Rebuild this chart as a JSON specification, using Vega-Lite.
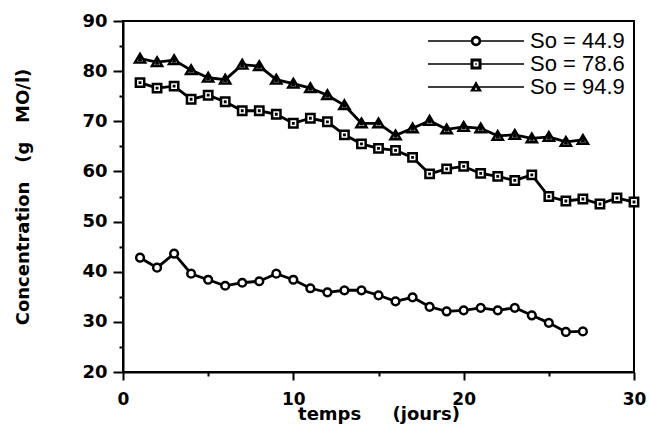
{
  "$schema": "https://vega.github.io/schema/vega-lite/v6.json",
  "width": 511,
  "height": 351,
  "autosize": {"type": "none"},
  "padding": {"left": 123, "top": 21, "right": 16, "bottom": 54},
  "background": "white",
  "config": {
    "view": {"stroke": "black", "strokeWidth": 2},
    "axis": {
      "domainColor": "black", "domainWidth": 2, "tickColor": "black", "tickWidth": 2,
      "labelColor": "black", "titleColor": "black", "grid": false,
      "labelFont": "DejaVu Sans", "labelFontWeight": "bold", "labelFontSize": 17,
      "titleFont": "DejaVu Sans", "titleFontWeight": "bold", "titleFontSize": 18,
      "labelOverlap": false, "labelBound": false, "labelFlush": false
    }
  },
  "data": {
    "values": [
      {"day": 1, "conc": 42.8, "series": "So = 44.9"},
      {"day": 2, "conc": 40.8, "series": "So = 44.9"},
      {"day": 3, "conc": 43.6, "series": "So = 44.9"},
      {"day": 4, "conc": 39.6, "series": "So = 44.9"},
      {"day": 5, "conc": 38.4, "series": "So = 44.9"},
      {"day": 6, "conc": 37.2, "series": "So = 44.9"},
      {"day": 7, "conc": 37.8, "series": "So = 44.9"},
      {"day": 8, "conc": 38.1, "series": "So = 44.9"},
      {"day": 9, "conc": 39.6, "series": "So = 44.9"},
      {"day": 10, "conc": 38.4, "series": "So = 44.9"},
      {"day": 11, "conc": 36.7, "series": "So = 44.9"},
      {"day": 12, "conc": 35.9, "series": "So = 44.9"},
      {"day": 13, "conc": 36.3, "series": "So = 44.9"},
      {"day": 14, "conc": 36.3, "series": "So = 44.9"},
      {"day": 15, "conc": 35.3, "series": "So = 44.9"},
      {"day": 16, "conc": 34.1, "series": "So = 44.9"},
      {"day": 17, "conc": 34.9, "series": "So = 44.9"},
      {"day": 18, "conc": 33.0, "series": "So = 44.9"},
      {"day": 19, "conc": 32.1, "series": "So = 44.9"},
      {"day": 20, "conc": 32.3, "series": "So = 44.9"},
      {"day": 21, "conc": 32.8, "series": "So = 44.9"},
      {"day": 22, "conc": 32.3, "series": "So = 44.9"},
      {"day": 23, "conc": 32.8, "series": "So = 44.9"},
      {"day": 24, "conc": 31.3, "series": "So = 44.9"},
      {"day": 25, "conc": 29.8, "series": "So = 44.9"},
      {"day": 26, "conc": 28.0, "series": "So = 44.9"},
      {"day": 27, "conc": 28.1, "series": "So = 44.9"},
      {"day": 1, "conc": 77.7, "series": "So = 78.6"},
      {"day": 2, "conc": 76.6, "series": "So = 78.6"},
      {"day": 3, "conc": 77.0, "series": "So = 78.6"},
      {"day": 4, "conc": 74.4, "series": "So = 78.6"},
      {"day": 5, "conc": 75.2, "series": "So = 78.6"},
      {"day": 6, "conc": 73.9, "series": "So = 78.6"},
      {"day": 7, "conc": 72.1, "series": "So = 78.6"},
      {"day": 8, "conc": 72.1, "series": "So = 78.6"},
      {"day": 9, "conc": 71.4, "series": "So = 78.6"},
      {"day": 10, "conc": 69.6, "series": "So = 78.6"},
      {"day": 11, "conc": 70.6, "series": "So = 78.6"},
      {"day": 12, "conc": 69.9, "series": "So = 78.6"},
      {"day": 13, "conc": 67.3, "series": "So = 78.6"},
      {"day": 14, "conc": 65.5, "series": "So = 78.6"},
      {"day": 15, "conc": 64.6, "series": "So = 78.6"},
      {"day": 16, "conc": 64.2, "series": "So = 78.6"},
      {"day": 17, "conc": 62.8, "series": "So = 78.6"},
      {"day": 18, "conc": 59.5, "series": "So = 78.6"},
      {"day": 19, "conc": 60.5, "series": "So = 78.6"},
      {"day": 20, "conc": 61.0, "series": "So = 78.6"},
      {"day": 21, "conc": 59.6, "series": "So = 78.6"},
      {"day": 22, "conc": 59.0, "series": "So = 78.6"},
      {"day": 23, "conc": 58.2, "series": "So = 78.6"},
      {"day": 24, "conc": 59.3, "series": "So = 78.6"},
      {"day": 25, "conc": 55.0, "series": "So = 78.6"},
      {"day": 26, "conc": 54.1, "series": "So = 78.6"},
      {"day": 27, "conc": 54.5, "series": "So = 78.6"},
      {"day": 28, "conc": 53.5, "series": "So = 78.6"},
      {"day": 29, "conc": 54.7, "series": "So = 78.6"},
      {"day": 30, "conc": 53.9, "series": "So = 78.6"},
      {"day": 1, "conc": 82.5, "series": "So = 94.9"},
      {"day": 2, "conc": 81.8, "series": "So = 94.9"},
      {"day": 3, "conc": 82.2, "series": "So = 94.9"},
      {"day": 4, "conc": 80.2, "series": "So = 94.9"},
      {"day": 5, "conc": 78.7, "series": "So = 94.9"},
      {"day": 6, "conc": 78.3, "series": "So = 94.9"},
      {"day": 7, "conc": 81.3, "series": "So = 94.9"},
      {"day": 8, "conc": 81.0, "series": "So = 94.9"},
      {"day": 9, "conc": 78.3, "series": "So = 94.9"},
      {"day": 10, "conc": 77.5, "series": "So = 94.9"},
      {"day": 11, "conc": 76.6, "series": "So = 94.9"},
      {"day": 12, "conc": 75.2, "series": "So = 94.9"},
      {"day": 13, "conc": 73.2, "series": "So = 94.9"},
      {"day": 14, "conc": 69.6, "series": "So = 94.9"},
      {"day": 15, "conc": 69.6, "series": "So = 94.9"},
      {"day": 16, "conc": 67.2, "series": "So = 94.9"},
      {"day": 17, "conc": 68.6, "series": "So = 94.9"},
      {"day": 18, "conc": 70.1, "series": "So = 94.9"},
      {"day": 19, "conc": 68.4, "series": "So = 94.9"},
      {"day": 20, "conc": 68.9, "series": "So = 94.9"},
      {"day": 21, "conc": 68.6, "series": "So = 94.9"},
      {"day": 22, "conc": 67.1, "series": "So = 94.9"},
      {"day": 23, "conc": 67.3, "series": "So = 94.9"},
      {"day": 24, "conc": 66.6, "series": "So = 94.9"},
      {"day": 25, "conc": 66.9, "series": "So = 94.9"},
      {"day": 26, "conc": 65.9, "series": "So = 94.9"},
      {"day": 27, "conc": 66.3, "series": "So = 94.9"}
    ]
  },
  "encoding": {
    "x": {
      "field": "day", "type": "quantitative",
      "scale": {"domain": [0, 30], "nice": false},
      "axis": {
        "values": [0, 5, 10, 15, 20, 25, 30],
        "labelExpr": "datum.value % 10 === 0 ? datum.label : ''",
        "tickSize": {"condition": {"test": "datum.value % 10 === 0", "value": 8}, "value": 4},
        "labelPadding": 11,
        "title": "temps\u00a0\u00a0\u00a0\u00a0\u00a0(jours)",
        "titlePadding": -2
      }
    },
    "y": {
      "field": "conc", "type": "quantitative",
      "scale": {"domain": [20, 90], "nice": false, "zero": false},
      "axis": {
        "values": [20, 25, 30, 35, 40, 45, 50, 55, 60, 65, 70, 75, 80, 85, 90],
        "labelExpr": "datum.value % 10 === 0 ? datum.label : ''",
        "tickSize": {"condition": {"test": "datum.value % 10 === 0", "value": 10}, "value": 4},
        "labelPadding": 6,
        "labelFontSize": 18,
        "title": "Concentration\u00a0\u00a0\u00a0(g\u00a0\u00a0\u00a0MO/l)",
        "titlePadding": 49
      }
    }
  },
  "resolve": {"scale": {"shape": "independent"}, "legend": {"shape": "independent"}},
  "layer": [
    {
      "mark": {"type": "line", "color": "black", "strokeWidth": 2.8},
      "encoding": {"detail": {"field": "series", "type": "nominal"}}
    },
    {
      "mark": {"type": "point", "filled": true, "fill": "white", "stroke": "black", "strokeWidth": 2.5, "opacity": 1, "size": 115},
      "encoding": {
        "shape": {
          "field": "series", "type": "nominal",
          "scale": {
            "domain": ["So = 44.9", "So = 78.6", "So = 94.9"],
            "range": [
              "M0.72,0A0.72,0.72 0 1,1 -0.72,0A0.72,0.72 0 1,1 0.72,0Z",
              "M-0.78,-0.78H0.78V0.78H-0.78Z M-0.03,-0.03H0.03V0.03H-0.03Z",
              "M0,-0.88L0.95,0.72H-0.95Z M0,0.0L0.08,0.2H-0.08Z"
            ]
          },
          "legend": null
        }
      }
    },
    {
      "transform": [{"filter": "false"}],
      "mark": {"type": "point", "filled": true, "fill": "black", "strokeWidth": 0, "opacity": 1, "size": 400},
      "encoding": {
        "shape": {
          "field": "series", "type": "nominal",
          "scale": {
            "domain": ["So = 44.9", "So = 78.6", "So = 94.9"],
            "range": [
              "M-8.6,-0.08H-4.3V0.08H-8.6Z M-3.3,-0.08H1V0.08H-3.3Z M-3.28,0A0.52,0.52 0 1,1 -4.32,0A0.52,0.52 0 1,1 -3.28,0Z M-3.54,0A0.26,0.26 0 1,0 -4.06,0A0.26,0.26 0 1,0 -3.54,0Z",
              "M-8.6,-0.08H-4.35V0.08H-8.6Z M-3.25,-0.08H1V0.08H-3.25Z M-4.35,-0.55H-3.25V0.55H-4.35Z M-4.05,-0.25V0.25H-3.55V-0.25Z M-3.88,-0.08H-3.72V0.08H-3.88Z",
              "M-8.6,-0.08H-4.1V0.08H-8.6Z M-3.5,-0.08H1V0.08H-3.5Z M-3.8,-0.6L-3.2,0.45H-4.4Z M-3.8,0.02L-3.93,0.28H-3.67Z"
            ]
          },
          "legend": {
            "title": null,
            "orient": "top-right",
            "offset": 9,
            "padding": 0,
            "rowPadding": 1,
            "symbolSize": 400,
            "symbolOpacity": 1,
            "symbolStrokeWidth": 0,
            "symbolFillColor": "black",
            "labelFont": "Liberation Sans",
            "labelFontSize": 22,
            "labelColor": "black",
            "labelOffset": 5,
            "labelLimit": 300
          }
        }
      }
    }
  ]
}
